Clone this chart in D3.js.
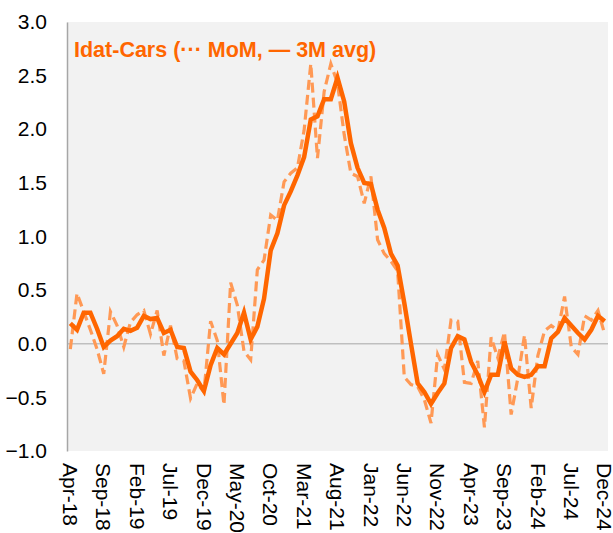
<!DOCTYPE html>
<html>
<head>
<meta charset="utf-8">
<script src="https://cdn.jsdelivr.net/npm/d3@7"></script>
<style>
  body { margin: 0; background: #fff; }
  text { font-family: "Liberation Sans", Arial, sans-serif; }
</style>
</head>
<body>
<svg id="chart"></svg>
<script>
// monthly categories Apr-18 .. Dec-24
const months = d3.timeMonth.range(new Date(2018, 3, 1), new Date(2025, 0, 1));
const fmt = d3.timeFormat("%b-%y");
const categories = months.map(fmt);

// MoM (dashed)
const momValues = [
  -0.05, 0.47, 0.30, 0.13, -0.05, -0.28, 0.30, 0.17, -0.03, 0.20,
  0.27, 0.31, 0.09, 0.31, -0.11, 0.17, -0.14, -0.16, -0.51, -0.37,
  -0.45, 0.21, 0.03, -0.57, 0.57, 0.36, -0.07, -0.15, 0.69, 0.78,
  1.20, 1.15, 1.51, 1.59, 1.64, 1.99, 2.61, 1.73, 2.35, 2.61,
  2.43, 1.95, 1.59, 1.56, 1.31, 1.56, 0.97, 0.84, 0.77, 0.68,
  -0.31, -0.38, -0.40, -0.52, -0.74, -0.10, -0.24, 0.22, 0.21, -0.36,
  -0.37, -0.16, -0.78, 0.06, -0.13, 0.11, -0.66, -0.32, 0.08, -0.60,
  -0.11, 0.12, 0.17, 0.12, 0.44, -0.03, -0.10, 0.26, 0.22, 0.31,
  0.09
];

// 3M avg (solid)
const avgValues = [
  0.19, 0.13, 0.29, 0.29, 0.14, -0.03, 0.03, 0.07, 0.14, 0.12,
  0.15, 0.26, 0.23, 0.24, 0.10, 0.13, -0.03, -0.04, -0.26, -0.34,
  -0.44, -0.20, -0.04, -0.10, 0.00, 0.10, 0.29, 0.04, 0.16, 0.42,
  0.87, 1.03, 1.29, 1.42, 1.57, 1.74, 2.09, 2.12, 2.28, 2.28,
  2.48, 2.26, 1.87, 1.64, 1.50, 1.49, 1.25, 1.08, 0.84, 0.73,
  0.38, 0.00, -0.37, -0.45, -0.56, -0.46, -0.37, -0.04, 0.07, 0.04,
  -0.17, -0.29, -0.45, -0.29, -0.29, 0.02, -0.23, -0.29, -0.31, -0.29,
  -0.21, -0.21, 0.05, 0.11, 0.24, 0.17, 0.10, 0.04, 0.13, 0.26,
  0.21
];

const tickLabels = ["Apr-18", "Sep-18", "Feb-19", "Jul-19", "Dec-19", "May-20", "Oct-20",
  "Mar-21", "Aug-21", "Jan-22", "Jun-22", "Nov-22", "Apr-23", "Sep-23", "Feb-24", "Jul-24", "Dec-24"];
const yTicks = [-1.0, -0.5, 0.0, 0.5, 1.0, 1.5, 2.0, 2.5, 3.0];
const title = "Idat-Cars (\u00b7\u00b7\u00b7 MoM, \u2014 3M avg)";

const WIDTH = 613, HEIGHT = 533;
const plotL = 67, plotR = 608, plotT = 22, plotB = 451;

const svg = d3.select("#chart").attr("width", WIDTH).attr("height", HEIGHT);

const x = d3.scalePoint().domain(categories).range([plotL, plotR]).padding(0.5);
const y = d3.scaleLinear().domain([-1, 3]).range([plotB, plotT]);

// plot area
svg.append("rect")
  .attr("x", plotL).attr("y", plotT)
  .attr("width", plotR - plotL).attr("height", plotB - plotT)
  .attr("fill", "#f2f2f2");

// zero line
svg.append("line")
  .attr("x1", plotL).attr("x2", plotR)
  .attr("y1", y(0)).attr("y2", y(0))
  .attr("stroke", "#bfbfbf").attr("stroke-width", 1.5);

// y axis
const yAxis = svg.append("g")
  .attr("transform", `translate(${plotL},0)`)
  .call(d3.axisLeft(y).tickValues(yTicks).tickFormat(d3.format(".1f")).tickSize(0).tickPadding(20));
yAxis.select(".domain").attr("stroke", "#a6a6a6").attr("stroke-width", 1.5);
yAxis.selectAll("text").attr("font-size", 21).attr("fill", "#000")
  .style("font-family", '"Liberation Sans", Arial, sans-serif');

// x labels
svg.append("g").selectAll("text")
  .data(tickLabels)
  .join("text")
  .attr("transform", d => `translate(${x(d)},463) rotate(90)`)
  .attr("dy", "0.35em")
  .attr("font-size", 21)
  .attr("fill", "#000")
  .text(d => d);

const line = d3.line()
  .x((d, i) => x(categories[i]))
  .y(d => y(d));

svg.append("path")
  .datum(momValues)
  .attr("d", line)
  .attr("fill", "none")
  .attr("stroke", "#ff9955")
  .attr("stroke-width", 3.2)
  .attr("stroke-dasharray", "10,5");

svg.append("path")
  .datum(avgValues)
  .attr("d", line)
  .attr("fill", "none")
  .attr("stroke", "#ff6600")
  .attr("stroke-width", 4.5)
  .attr("stroke-linejoin", "miter");

svg.append("text")
  .attr("x", 74).attr("y", 57)
  .attr("font-size", 21.5)
  .attr("font-weight", "bold")
  .attr("fill", "#ff6600")
  .text(title);
</script>
</body>
</html>
